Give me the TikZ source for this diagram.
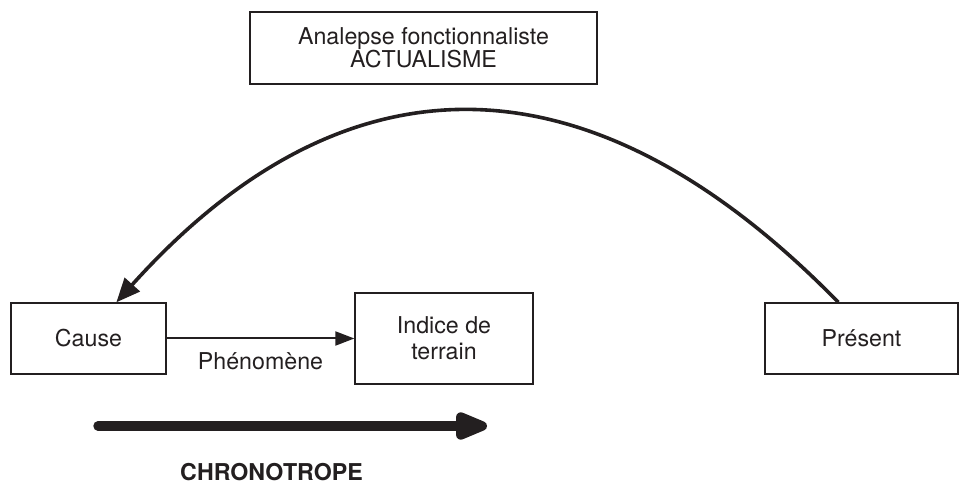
\documentclass[tikz,border=0pt]{standalone}
\usepackage{fontspec}
\setmainfont{TeX Gyre Heros}
\usetikzlibrary{arrows.meta}
\definecolor{DiagInk}{HTML}{231F20}

\begin{document}
\begin{tikzpicture}[
  x=0.5pt,y=-0.5pt,
  every node/.style={text=DiagInk,font=\fontsize{11.6}{13}\selectfont},
  framebox/.style={draw=DiagInk,line width=0.65pt,inner sep=0pt,align=center},
  arcarrow/.style={draw=DiagInk,line width=1.8pt,-{Triangle[length=12pt,width=10pt]}},
  flowarrow/.style={draw=DiagInk,line width=1pt,-{Triangle[length=9.5pt,width=7pt]}},
  timearrow/.style={draw=DiagInk,line width=4.7pt,line cap=round,-{Triangle[length=20pt,width=14.5pt,round]}}
]
\useasboundingbox (0,0) rectangle (970,485);
\node[framebox,minimum width=173.5pt,minimum height=36pt,font=\fontsize{11.6}{11.7}\selectfont] (analepse) at (423.5,48) {Analepse fonctionnaliste\\ACTUALISME};
\node[framebox,minimum width=77.5pt,minimum height=35.5pt] (cause) at (88.5,338.5) {Cause};
\node[framebox,minimum width=89pt,minimum height=45.5pt] (indice) at (444,338.5) {Indice de\\terrain};
\node[framebox,minimum width=96.5pt,minimum height=35.5pt] (present) at (861.5,338.5) {Présent};

% retour du present vers la cause
\draw[arcarrow] ([xshift=37pt]present.north west) .. controls (590,48) and (345,48) .. ([xshift=53pt]cause.north west);
\draw[flowarrow] (cause) -- node[anchor=base,yshift=-15.75pt] (phenomene) {Phénomène} (indice);

% fleche du temps
\coordinate (chronostart) at (98,426);
\coordinate (chronoend) at (487,426);
\draw[timearrow] (chronostart) -- (chronoend);
\node[anchor=base,font=\fontsize{11.6}{13}\bfseries] (chrono) at (271.5,481) {CHRONOTROPE};
\end{tikzpicture}
\end{document}
